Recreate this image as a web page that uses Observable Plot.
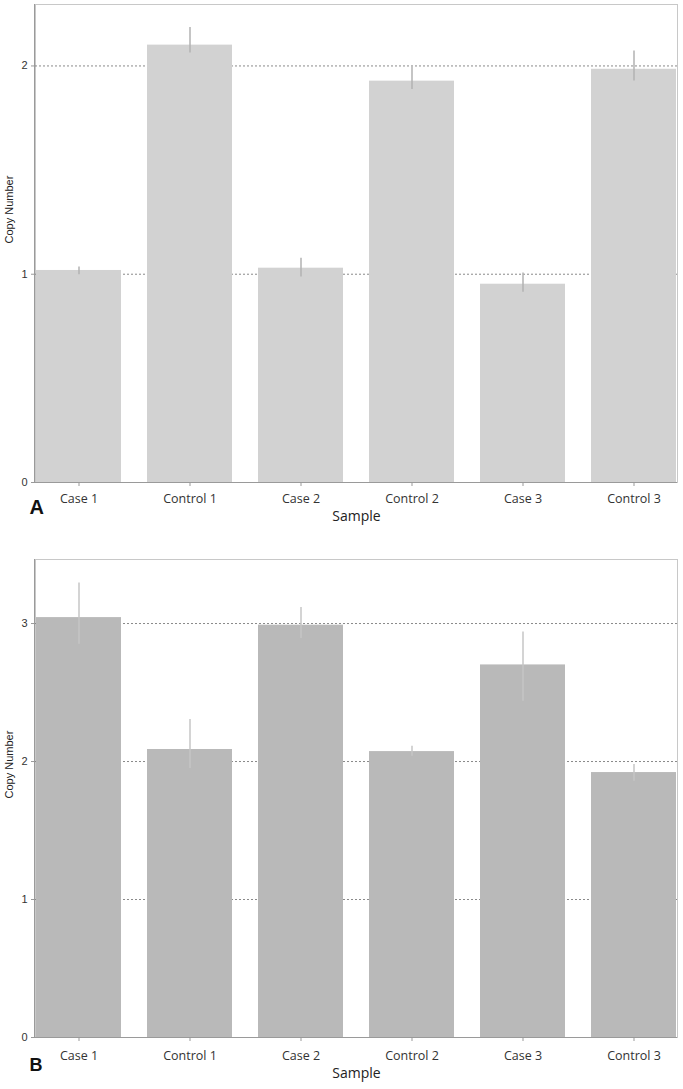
<!DOCTYPE html>
<html>
<head>
<meta charset="utf-8">
<script src="https://cdn.jsdelivr.net/npm/d3@7"></script>
<script src="https://cdn.jsdelivr.net/npm/@observablehq/plot@0.6"></script>
<style>
  html, body { margin: 0; padding: 0; background: #fff; }
  #chart svg { display: block; }
</style>
</head>
<body>
<div id="chart"></div>
<script>
const samples = ["Case 1", "Control 1", "Case 2", "Control 2", "Case 3", "Control 3"];

// Panel A
const valuesA = [1.018, 2.100, 1.029, 1.927, 0.952, 1.984];
const lowA    = [0.997, 2.062, 0.987, 1.887, 0.914, 1.928];
const highA   = [1.035, 2.184, 1.077, 1.995, 1.006, 2.072];
const ticksA  = [0, 1, 2];

// Panel B
const valuesB = [3.043, 2.087, 2.988, 2.072, 2.700, 1.920];
const lowB    = [2.850, 1.949, 2.891, 2.038, 2.437, 1.857];
const highB   = [3.294, 2.304, 3.116, 2.111, 2.939, 1.978];
const ticksB  = [0, 1, 2, 3];

function leftLine(color) {
  return (index, scales, values, dims) => {
    const g = d3.create("svg:line")
      .attr("x1", dims.marginLeft - 0.5).attr("x2", dims.marginLeft - 0.5)
      .attr("y1", dims.marginTop).attr("y2", dims.height - dims.marginBottom)
      .attr("stroke", color).attr("stroke-width", 1);
    return g.node();
  };
}

function panel({values, low, high, ticks, yMax, height, marginTop, marginBottom, fill, errColor, letter, letterSize, tickLabelOffset, titleOffset}) {
  const data = samples.map((s, i) => ({sample: s, value: values[i], low: low[i], high: high[i]}));
  const grid = ticks.filter(t => t > 0);
  return Plot.plot({
    width: 683,
    height,
    marginTop,
    marginBottom,
    marginLeft: 35,
    marginRight: 6,
    style: {background: "#fff", color: "#333", overflow: "visible"},
    x: {domain: samples, paddingInner: 0.236, paddingOuter: 0, axis: null},
    y: {domain: [0, yMax], axis: null},
    marks: [
      Plot.frame({stroke: "#c8c8c8"}),
      Plot.ruleY(grid, {stroke: "#8a8a8a", strokeDasharray: "2,2", strokeWidth: 1}),
      Plot.barY(data, {x: "sample", y: "value", fill}),
      Plot.ruleX(data, {x: "sample", y1: "low", y2: "high", stroke: errColor, strokeWidth: 1.5}),
      leftLine("#9a9a9a"),
      Plot.ruleY([0], {stroke: "#9a9a9a"}),
      Plot.axisY(ticks, {
        tickSize: 4, tickPadding: 4, stroke: "#999", fontSize: 11,
        tickFormat: d3.format("d"),
        fontFamily: "Liberation Sans, Arial, sans-serif", label: null
      }),
      Plot.axisX(samples, {
        tickSize: 4, tickPadding: tickLabelOffset, stroke: "#999", fontSize: 12.5,
        fontFamily: "Open Sans, sans-serif", label: null
      }),
      Plot.text(["Sample"], {
        frameAnchor: "bottom", dy: titleOffset, text: d => d, fontSize: 14,
        fontFamily: "Open Sans, sans-serif", fill: "#222"
      }),
      Plot.text([letter], {
        frameAnchor: "bottom-left", dx: -6, dy: titleOffset - 7, text: d => d,
        fontSize: letterSize, fontWeight: "bold", textAnchor: "start",
        fontFamily: "Liberation Sans, Arial, sans-serif", fill: "#111"
      }),
      Plot.text(["Copy Number"], {
        frameAnchor: "left", dx: -26, rotate: -90, text: d => d, fontSize: 11,
        fontFamily: "Liberation Sans, Arial, sans-serif", fill: "#222"
      })
    ]
  });
}

const chart = document.getElementById("chart");
chart.append(panel({
  values: valuesA, low: lowA, high: highA, ticks: ticksA, yMax: 2.295,
  height: 545, marginTop: 4, marginBottom: 63, fill: "#d2d2d2", errColor: "#b2b2b2",
  letter: "A", letterSize: 20, tickLabelOffset: 8, titleOffset: 38
}));
chart.append(panel({
  values: valuesB, low: lowB, high: highB, ticks: ticksB, yMax: 3.464,
  height: 544, marginTop: 14, marginBottom: 52, fill: "#b9b9b9", errColor: "#c6c6c6",
  letter: "B", letterSize: 18, tickLabelOffset: 10, titleOffset: 40
}));
</script>
</body>
</html>
